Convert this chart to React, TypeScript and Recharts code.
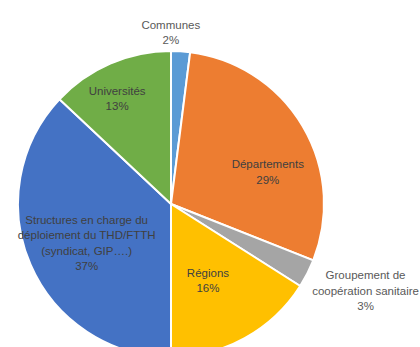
import React from 'react';
import { PieChart, Pie, Cell } from 'recharts';

// Slices in clockwise order from 12 o'clock
const categories = [
  'Communes',
  'Départements',
  'Groupement de\ncoopération sanitaire',
  'Régions',
  'Structures en charge du\ndéploiement du THD/FTTH\n(syndicat, GIP….)',
  'Universités',
];
const shares = [2, 29, 3, 16, 37, 13];

const colors = ['#5B9BD5', '#ED7D31', '#A5A5A5', '#FFC000', '#4472C4', '#70AD47'];

// label placement: radius (px from centre) + small nudges, per slice index
const labelPlacement = [
  { r: 172, dx: -11, dy: 0, fill: '#595959' },
  { r: 102, dx: 9, dy: 20, fill: '#404040' },
  { r: 215, dx: 3, dy: -11, fill: '#595959' },
  { r: 85, dx: -4, dy: 2, fill: '#404040' },
  { r: 93, dx: 1, dy: 2, fill: '#404040' },
  { r: 118, dx: -7, dy: 3, fill: '#404040' },
];

const data = categories.map((name, i) => ({ name, value: shares[i] }));

const RAD = Math.PI / 180;
const LINE_H = 15.5;

const renderLabel = (props: any) => {
  const { cx, cy, midAngle, index, percent } = props;
  const p = labelPlacement[index];
  const x = cx + p.r * Math.cos(-midAngle * RAD) + p.dx;
  const y = cy + p.r * Math.sin(-midAngle * RAD) + p.dy;
  const lines = [...categories[index].split('\n'), `${Math.round(percent * 100)}%`];
  const top = y - ((lines.length - 1) * LINE_H) / 2;
  return (
    <text
      key={`lbl-${index}`}
      x={x}
      y={top}
      textAnchor="middle"
      dominantBaseline="central"
      fill={p.fill}
      fontSize={11.5}
      fontFamily="'Liberation Sans', Arial, sans-serif"
    >
      {lines.map((l, i) => (
        <tspan key={i} x={x} y={top + i * LINE_H}>
          {l}
        </tspan>
      ))}
    </text>
  );
};

const App: React.FC = () => {
  return (
    <div style={{ width: 420, height: 347, background: '#fff', overflow: 'hidden' }}>
      <style>{'body{margin:0}'}</style>
      <PieChart width={420} height={347}>
        <Pie
          data={data}
          dataKey="value"
          nameKey="name"
          cx={166}
          cy={199}
          outerRadius={153}
          startAngle={90}
          endAngle={-270}
          stroke="#ffffff"
          strokeWidth={2}
          label={renderLabel}
          labelLine={false}
          isAnimationActive={false}
        >
          {data.map((d, i) => (
            <Cell key={`cell-${i}`} fill={colors[i]} />
          ))}
        </Pie>
      </PieChart>
    </div>
  );
};

export default App;
